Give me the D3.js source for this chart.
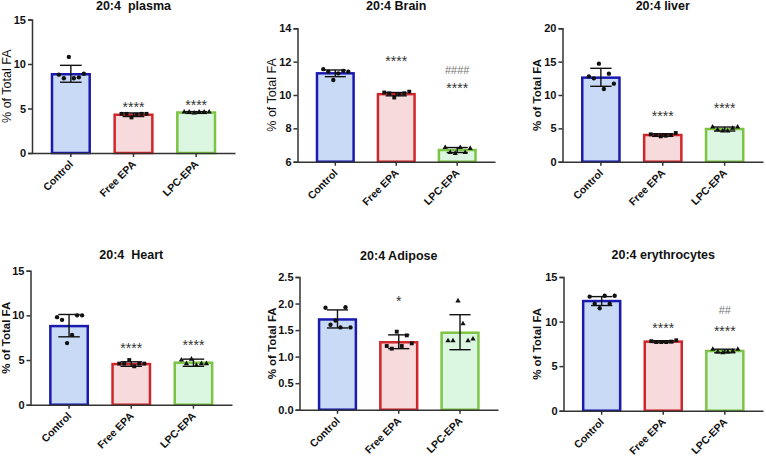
<!DOCTYPE html>
<html lang="en">
<head>
<meta charset="utf-8">
<title>20:4 fatty acid panels</title>
<script src="https://d3js.org/d3.v7.min.js"></script>
<style>
  body { margin: 0; background: #fff; font-family: "Liberation Sans", Arial, sans-serif; }
  .axis path, .axis line { stroke: #333; stroke-width: 1.5px; }
  .axis text { font-family: "Liberation Sans", Arial, sans-serif; font-weight: bold; font-size: 11px; fill: #111; }
  .title { font-weight: bold; font-size: 12.5px; fill: #111; white-space: pre; }
</style>
</head>
<body>
<div id="viz"></div>
<script>
// ---- data ----
var categories = ["Control", "Free EPA", "LPC-EPA"];
var titles = ["20:4  plasma", "20:4 Brain", "20:4 liver", "20:4  Heart", "20:4 Adipose", "20:4 erythrocytes"];
var yDomains = [[0, 15], [6, 14], [0, 20], [0, 15], [0, 2.5], [0, 15]];
var yTickValues = [
  [0, 5, 10, 15],
  [6, 8, 10, 12, 14],
  [0, 5, 10, 15, 20],
  [0, 5, 10, 15],
  [0, 0.5, 1.0, 1.5, 2.0, 2.5],
  [0, 5, 10, 15]
];
var means = [
  [8.85, 4.3, 4.55],
  [11.3, 10.05, 6.7],
  [12.6, 4.0, 4.9],
  [8.8, 4.55, 4.7],
  [1.70, 1.27, 1.45],
  [12.3, 7.75, 6.7]
];
var errLow = [
  [7.95, 4.1, 4.45],
  [11.1, 9.95, 6.55],
  [11.3, 3.8, 4.6],
  [7.6, 4.3, 4.3],
  [1.54, 1.15, 1.13],
  [11.8, 7.65, 6.5]
];
var errHigh = [
  [9.85, 4.5, 4.65],
  [11.5, 10.15, 6.85],
  [14.0, 4.2, 5.2],
  [10.1, 4.8, 5.1],
  [1.88, 1.41, 1.79],
  [12.8, 7.85, 6.9]
];
var points = [
  [[8.8, 8.4, 10.8, 8.4, 8.5, 8.9], [4.4, 4.4, 4.0, 4.3, 4.4, 4.4], [4.6, 4.6, 4.5, 4.6, 4.6, 4.6]],
  [[11.55, 11.4, 10.9, 11.3, 11.45, 11.4], [10.15, 10.1, 9.85, 10.05, 10.1, 10.2], [6.85, 6.55, 6.5, 6.85, 6.55, 6.8]],
  [[12.8, 12.5, 14.7, 10.9, 13.2, 11.7], [4.1, 4.0, 3.8, 3.9, 4.0, 4.3], [5.2, 4.8, 4.6, 4.6, 5.0, 5.2]],
  [[9.8, 9.5, 6.9, 7.8, 10.0, 10.0], [4.6, 4.6, 5.0, 4.3, 4.6, 4.6], [5.0, 4.6, 5.1, 4.4, 4.6, 4.6]],
  [[1.92, 1.60, 1.68, 1.55, 1.93, 1.55], [1.20, 1.15, 1.47, 1.20, 1.40, 1.25], [1.30, 1.30, 2.05, 1.62, 1.30, 1.33]],
  [[12.8, 12.0, 11.5, 12.9, 12.0, 12.9], [7.8, 7.7, 7.7, 7.7, 7.75, 7.9], [6.9, 6.6, 6.5, 6.6, 6.7, 6.9]]
];
// significance marks: panel, category, text, value where drawn
var annotations = [
  {panel: 0, cat: 1, text: "****", value: 5.3},
  {panel: 0, cat: 2, text: "****", value: 5.5},
  {panel: 1, cat: 1, text: "****", value: 12.1},
  {panel: 1, cat: 2, text: "####", value: 11.5},
  {panel: 1, cat: 2, text: "****", value: 10.45},
  {panel: 2, cat: 1, text: "****", value: 7.0},
  {panel: 2, cat: 2, text: "****", value: 8.2},
  {panel: 3, cat: 1, text: "****", value: 6.5},
  {panel: 3, cat: 2, text: "****", value: 6.8},
  {panel: 4, cat: 1, text: "*", value: 2.07},
  {panel: 5, cat: 1, text: "****", value: 9.4},
  {panel: 5, cat: 2, text: "##", value: 11.3},
  {panel: 5, cat: 2, text: "****", value: 9.1}
];

// ---- layout ----
var frames = [
  {l: 32, r: 235, t: 19.5, b: 153, lx: 7},
  {l: 297.5, r: 495, t: 28.3, b: 161.7, lx: 272},
  {l: 562.5, r: 763, t: 28.3, b: 161.7, lx: 537},
  {l: 30.5, r: 232, t: 270.7, b: 404.7, lx: 6},
  {l: 299.5, r: 498, t: 277, b: 409.7, lx: 272},
  {l: 563.5, r: 763, t: 277, b: 410.7, lx: 537}
];
var titleY = [10, 10, 10, 259, 260, 259];
var boldLabel = [false, false, true, true, true, true];
var strokes = ["#1a1aae", "#d0262b", "#7cc443"];
var fills = ["#c9daf6", "#f7dadb", "#dcf7e1"];
var jitter = [-12, -7, -2, 3, 8, 13];

var svg = d3.select("#viz").append("svg")
  .attr("width", 766)
  .attr("height", 457);

function xScale(f) {
  return d3.scaleBand()
    .domain(categories)
    .range([f.l, f.r])
    .paddingInner(0.36)
    .paddingOuter(0.3);
}

frames.forEach(function(f, p) {
  var g = svg.append("g");
  var x = xScale(f);
  var y = d3.scaleLinear()
    .domain(yDomains[p])
    .range([f.b, f.t]);
  var bw = x.bandwidth();

  // bars
  g.selectAll(".bar")
    .data(categories)
    .enter()
    .append("rect")
    .attr("x", function(d) { return x(d) + 1.2; })
    .attr("width", bw - 2.4)
    .attr("y", function(d, i) { return y(means[p][i]); })
    .attr("height", function(d, i) { return f.b - y(means[p][i]); })
    .attr("fill", function(d, i) { return fills[i]; })
    .attr("stroke", function(d, i) { return strokes[i]; })
    .attr("stroke-width", 2.5);

  // points
  categories.forEach(function(c, i) {
    var cx = x(c) + bw / 2;
    var sym = [d3.symbolCircle, d3.symbolSquare, d3.symbolTriangle][i];
    g.selectAll(".pt" + i)
      .data(points[p][i])
      .enter()
      .append("path")
      .attr("d", d3.symbol().type(sym).size(i === 2 ? 12 : 15))
      .attr("transform", function(d, k) { return "translate(" + (cx + jitter[k]) + "," + y(d) + ")"; })
      .attr("fill", "#111");
  });

  // error bars
  categories.forEach(function(c, i) {
    var cx = x(c) + bw / 2;
    var cap = bw * 0.27;
    var lo = y(errLow[p][i]), hi = y(errHigh[p][i]);
    g.append("line").attr("x1", cx).attr("x2", cx).attr("y1", lo).attr("y2", hi)
      .attr("stroke", "#111").attr("stroke-width", 1.4);
    [lo, hi].forEach(function(v) {
      g.append("line").attr("x1", cx - cap).attr("x2", cx + cap).attr("y1", v).attr("y2", v)
        .attr("stroke", "#111").attr("stroke-width", 1.4);
    });
  });

  // axes
  var fmt = yDomains[p][1] < 5 ? d3.format(".1f") : d3.format("d");
  g.append("g")
    .attr("class", "axis")
    .attr("transform", "translate(" + f.l + ",0)")
    .call(d3.axisLeft(y).tickValues(yTickValues[p]).tickFormat(fmt).tickSize(4).tickPadding(2));

  var xa = g.append("g")
    .attr("class", "axis")
    .attr("transform", "translate(0," + f.b + ")")
    .call(d3.axisBottom(x).tickSize(4).tickSizeOuter(0));
  xa.selectAll("text")
    .attr("text-anchor", "end")
    .attr("dy", null)
    .attr("y", 0)
    .style("font-size", "10.5px")
    .attr("transform", "translate(3,12) rotate(-45)");

  // y label
  g.append("text")
    .attr("transform", "translate(" + (f.lx + 4) + "," + ((f.t + f.b) / 2) + ") rotate(-90)")
    .attr("text-anchor", "middle")
    .attr("font-size", boldLabel[p] ? "11.5px" : "12.5px")
    .attr("font-weight", boldLabel[p] ? "bold" : "normal")
    .attr("fill", "#111")
    .text("% of Total FA");

  // title
  g.append("text")
    .attr("class", "title")
    .attr("x", (f.l + f.r) / 2)
    .attr("y", titleY[p])
    .attr("text-anchor", "middle")
    .text(titles[p]);
});

// significance marks
annotations.forEach(function(a) {
  var f = frames[a.panel];
  var x = xScale(f);
  var y = d3.scaleLinear().domain(yDomains[a.panel]).range([f.b, f.t]);
  var hash = a.text.charAt(0) === "#";
  svg.append("text")
    .attr("x", x(categories[a.cat]) + x.bandwidth() / 2)
    .attr("y", y(a.value) + (hash ? 4 : 6))
    .attr("text-anchor", "middle")
    .attr("font-size", hash ? "11px" : "14px")
    .attr("fill", hash ? "#777" : "#333")
    .text(a.text);
});
</script>
</body>
</html>
